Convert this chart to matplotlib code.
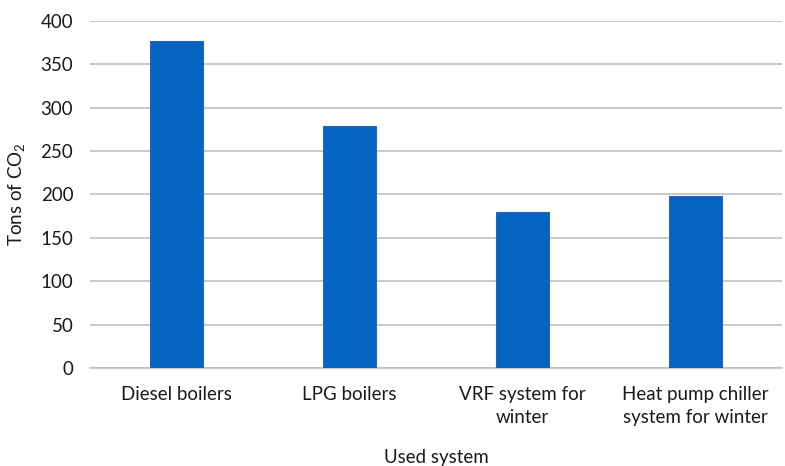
import matplotlib
matplotlib.use("Agg")
import matplotlib.pyplot as plt

# data
systems = ["Diesel boilers", "LPG boilers", "VRF system for\nwinter", "Heat pump chiller\nsystem for winter"]
tons_co2 = [376.5, 279, 180, 198.5]

plt.rcParams["font.family"] = ["Lato", "DejaVu Sans"]
plt.rcParams["mathtext.fontset"] = "custom"
plt.rcParams["mathtext.rm"] = "Lato"
plt.rcParams["mathtext.it"] = "Lato:italic"

fig = plt.figure(figsize=(7.85, 4.66), dpi=100)
ax = fig.add_axes([0.1146, 0.2103, 0.8814, 0.7447])

x = range(len(systems))
ax.bar(x, tons_co2, width=0.31, color="#0563C1", edgecolor="#2F63B5", linewidth=0.8, zorder=3)

ax.set_xlim(-0.5, len(systems) - 0.5)
ax.set_ylim(0, 400)
ax.set_yticks(range(0, 401, 50))
ax.set_xticks(list(x))
ax.set_xticklabels(systems, fontsize=13.5, color="#1a1a1a", linespacing=1.45)
ax.tick_params(axis="y", labelsize=13.5, labelcolor="#1a1a1a", length=0, pad=12)
ax.tick_params(axis="x", length=0, pad=13)

ax.yaxis.grid(True, color="#C0C0C0", linewidth=1.2, zorder=0)
for s in ["top", "right", "left"]:
    ax.spines[s].set_visible(False)
ax.spines["bottom"].set_color("#C0C0C0")
ax.spines["bottom"].set_linewidth(1.2)

ax.set_ylabel("Tons of CO$_2$", fontsize=13.5, color="#1a1a1a", labelpad=10)
ax.set_xlabel("Used system", fontsize=13.5, color="#1a1a1a", labelpad=16)

fig.savefig("out.png", dpi=100)
